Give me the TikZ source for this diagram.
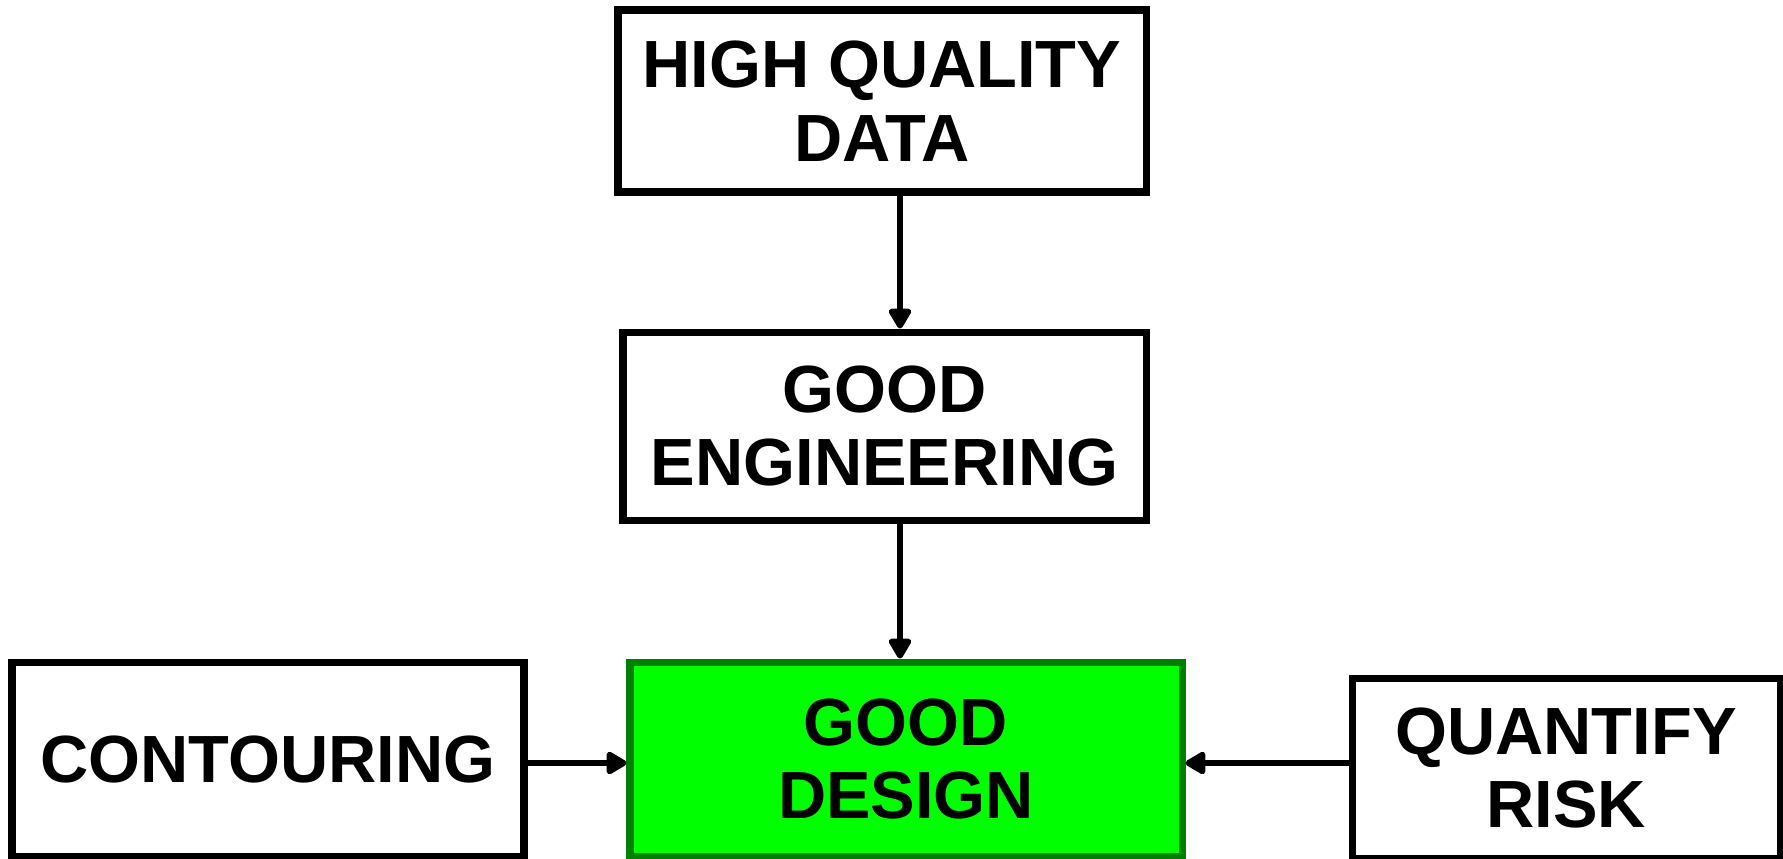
\documentclass[tikz,border=0pt]{standalone}
\usepackage{fontspec}
\setmainfont{Liberation Sans}
\usetikzlibrary{arrows.meta, positioning}
\definecolor{goodgreen}{RGB}{0,255,0}
\definecolor{darkgreen}{RGB}{0,128,0}
\tikzset{
    box/.style={draw, line width=4pt, rectangle, align=center, fill=white,
        font=\fontsize{38}{42}\selectfont\bfseries}, % the plain white boxes
    goal/.style={box, draw=darkgreen, fill=goodgreen}, % the green target box
    flow/.style={line width=3.8pt, -{Triangle[length=0.46cm, width=0.5cm, round]}}, % arrows
}

\begin{document}
\begin{tikzpicture}
    \useasboundingbox (0,0) rectangle (35.66,-17.16);
    \node[box, minimum width=10.56cm, minimum height=3.64cm] (hqd) at (17.64,-2.02) {HIGH QUALITY\\DATA};
    \node[box, minimum width=10.46cm, minimum height=3.76cm] (ge) at (17.69,-8.52) {GOOD\\ENGINEERING};
    \node[goal, minimum width=11.04cm, minimum height=3.88cm] (gd) at (18.12,-15.18) {GOOD\\DESIGN};
    \node[box, minimum width=10.24cm, minimum height=3.88cm] (cont) at (5.36,-15.18) {CONTOURING};
    \node[box, minimum width=8.56cm, minimum height=3.6cm] (qr) at (31.32,-15.36) {QUANTIFY\\RISK};
    \draw[flow] (hqd.south -| 18.0,0) -- (ge.north -| 18.0,0);
    \draw[flow] (ge.south -| 18.0,0) -- (gd.north -| 18.0,0);
    \draw[flow] (cont.east |- 0,-15.26) -- (gd.west |- 0,-15.26);
    \draw[flow] (qr.west |- 0,-15.26) -- (gd.east |- 0,-15.26);
\end{tikzpicture}
\end{document}
